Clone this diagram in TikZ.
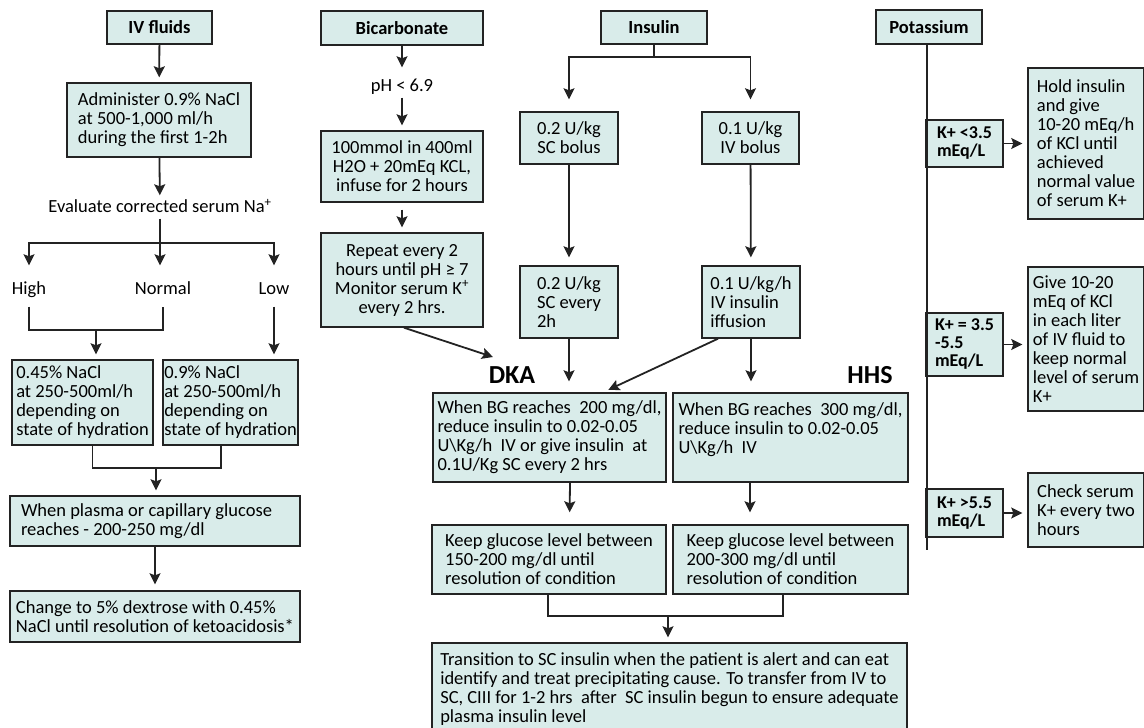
\documentclass[tikz,border=0pt]{standalone}
\usepackage{fontspec}
\setmainfont{Carlito}
\usetikzlibrary{arrows.meta}
\definecolor{boxfill}{RGB}{217,236,234}
\definecolor{edge}{RGB}{35,35,35}
\tikzset{
  sz/.style 2 args={minimum width=#1pt, minimum height=#2pt},
  box/.style={draw=edge, fill=boxfill, line width=1.4pt, inner sep=0pt, align=center},
  lbox/.style={box, align=left},
  hd/.style={box, font=\fontsize{18.5}{19}\selectfont\bfseries},
  kbox/.style={lbox, font=\fontsize{18}{18}\selectfont\bfseries},
  lab/.style={inner sep=2pt, text height=13pt, text depth=4pt},
  big/.style={inner sep=0pt, font=\fontsize{26}{28}\selectfont\bfseries},
  ln/.style={draw=edge, line width=1.8pt},
  arr/.style={ln, -{Stealth[length=11pt,width=11pt,inset=2pt]}, shorten >=5pt}
}
\begin{document}
\begin{tikzpicture}[x=1pt, y=-1pt, every node/.style={font=\fontsize{18.5}{19}\selectfont}]
\useasboundingbox (0,0) rectangle (1144,728);

\node[hd, sz={105}{33}] (ivf) at (159.5,27.5) {IV fluids};
\node[lbox, sz={184}{74}] (adm) at (159,120) {Administer 0.9\% NaCl\\at 500-1,000 ml/h\\during the first 1-2h};
\node[lab] (eval) at (160,208) {Evaluate corrected serum Na\textsuperscript{+}};
\node[lab] (high) at (29,290) {High};
\node[lab] (norm) at (163,290) {Normal};
\node[lab] (low) at (274,290) {Low};
\node[lbox, sz={141}{85}] (hal) at (82.5,402.5) {0.45\% NaCl\\at 250-500ml/h\\depending on\\state of hydration};
\node[lbox, sz={135}{85}] (nin) at (230.5,402.5) {0.9\% NaCl\\at 250-500ml/h\\depending on\\state of hydration};
\node[box, align=flush left, sz={290}{50}, text width=268pt] (gluc) at (155,521) {When plasma or capillary glucose\\reaches - 200-250 mg/dl};
\node[lbox, sz={290}{51}] (dex) at (155,616.5) {Change to 5\% dextrose with 0.45\%\\NaCl until resolution of ketoacidosis*};
\coordinate (evs) at (160,243);
\coordinate (hn) at (96,330);
\coordinate (jn) at (156,468);

\draw[arr] (ivf) -- (adm);
\draw[arr, shorten >=2pt] (adm) -- (eval);
\draw[ln] (eval) -- (evs);
\draw[arr, shorten >=14pt] (evs) -| (high);
\draw[arr, shorten >=14pt] (evs) -- (evs |- norm.north);
\draw[arr, shorten >=14pt] (evs) -| (low);
\draw[ln, shorten <=6pt, shorten >=6pt] (high.south) |- (norm.south |- hn) -- (norm.south);
\draw[arr] (hn) -- (hn |- hal.north);
\draw[arr, shorten <=6pt] (low) -- (low |- nin.north);
\draw[ln] ([xshift=10pt]hal.south) |- (jn) -| ([xshift=-9.5pt]nin.south);
\draw[arr] (jn) -- (jn |- gluc.north);
\draw[arr, shorten >=6pt] (gluc) -- (dex);

\node[hd, sz={162}{34}] (bic) at (402,28) {Bicarbonate};
\node[lab] (ph) at (402,87) {pH < 6.9};
\node[box, sz={162}{71}] (mmol) at (402,166.5) {100mmol in 400ml\\H2O + 20mEq KCL,\\infuse for 2 hours};
\node[box, sz={162}{94}] (rep) at (402,280) {Repeat every 2\\hours until pH ≥ 7\\Monitor serum K\textsuperscript{+}\\every 2 hrs.};
\coordinate (dkain) at (493,357);
\draw[arr, shorten >=9pt] (bic) -- (ph);
\draw[arr] (ph) -- (mmol);
\draw[arr, shorten <=7pt] (mmol) -- (rep);
\draw[arr, shorten >=0pt] ([xshift=2pt]rep.south) -- (dkain);

\node[hd, sz={106}{33}] (ins) at (654,27.5) {Insulin};
\coordinate (isp) at (654,57);
\node[box, sz={98}{52}] (scb) at (569,138) {0.2 U/kg\\SC bolus};
\node[box, sz={97}{52}] (ivb) at (750.5,138) {0.1 U/kg\\IV bolus};
\node[lbox, sz={98}{72}] (sce) at (569,302) {0.2 U/kg\\SC every\\2h};
\node[lbox, sz={98}{72}] (ivi) at (751,302) {0.1 U/kg/h\\IV insulin\\iffusion};
\node[big] (dka) at (512,375) {DKA};
\node[big] (hhs) at (870,375) {HHS};
\node[lbox, sz={233}{89}] (dkab) at (549.5,437.5) {When BG reaches\ \ 200 mg/dl,\\reduce insulin to 0.02-0.05\\U\textbackslash Kg/h\ \ IV or give insulin\ \ at\\0.1U/Kg SC every 2 hrs};
\node[lbox, sz={235}{89}] (hhsb) at (790.5,437.5) {When BG reaches\ \ 300 mg/dl,\\reduce insulin to 0.02-0.05\\U\textbackslash Kg/h\ \ IV\\\mbox{}};
\node[lbox, sz={234}{69}] (keep1) at (549,559.5) {Keep glucose level between\\150-200 mg/dl until\\resolution of condition};
\node[lbox, sz={235}{69}] (keep2) at (790.5,559.5) {Keep glucose level between\\200-300 mg/dl until\\resolution of condition};
\node[lbox, sz={475}{92}] (trans) at (669.5,689) {Transition to SC insulin when the patient is alert and can eat\\identify and treat precipitating cause. To transfer from IV to\\SC, CIII for 1-2 hrs\ \ after\ \ SC insulin begun to ensure adequate\\plasma insulin level};
\coordinate (kj) at (668,616);

\draw[ln] (ins) -- (isp);
\draw[arr, shorten >=12pt] (isp) -| (scb);
\draw[arr, shorten >=12pt] (isp) -| (ivb);
\draw[arr, shorten >=8pt] (scb) -- (sce);
\draw[arr, shorten >=8pt] (ivb) -- (ivi);
\draw[arr, shorten >=11pt] (sce) -- (sce |- dkab.north);
\draw[arr, shorten >=11pt] (ivi) -- (ivi |- hhsb.north);
\draw[arr, shorten >=6pt] ([xshift=-33pt]ivi.south) -- ([xshift=53.5pt]dkab.north);
\draw[arr, shorten >=12pt] ([xshift=20.5pt]dkab.south) -- ([xshift=20.5pt]keep1.north);
\draw[arr, shorten >=12pt] ([xshift=-40.5pt]hhsb.south) -- ([xshift=-40.5pt]keep2.north);
\draw[ln] ([xshift=-1pt]keep1.south) |- (kj) -| ([xshift=-7.5pt]keep2.south);
\draw[arr] (kj) -- (kj |- trans.north);

\node[hd, sz={106}{34}] (pot) at (929,27) {Potassium};
\coordinate (pend) at (927,550);
\node[kbox, sz={77}{47}] (klo) at (964.5,143.5) {K+ <3.5\\mEq/L};
\node[kbox, sz={77}{63}] (kmid) at (964.5,344.5) {K+ = 3.5\\-5.5\\mEq/L};
\node[kbox, sz={77}{48}] (khi) at (964.5,513) {K+ >5.5\\mEq/L};
\node[lbox, sz={116}{151}] (rlo) at (1086,143.5) {Hold insulin\\and give\\10-20 mEq/h\\of KCl until\\achieved\\normal value\\of serum K+};
\node[lbox, sz={116}{144}] (rmid) at (1086,339) {Give 10-20\\mEq of KCl\\in each liter\\of IV fluid to\\keep normal\\level of serum\\K+};
\node[lbox, sz={116}{74}] (rhi) at (1086,510) {Check serum\\K+ every two\\hours};

\draw[ln] (pot.south -| pend) -- (pend);
\draw[arr] (klo) -- (klo -| rlo.west);
\draw[arr] (kmid) -- (kmid -| rmid.west);
\draw[arr] (khi) -- (khi -| rhi.west);
\end{tikzpicture}
\end{document}
